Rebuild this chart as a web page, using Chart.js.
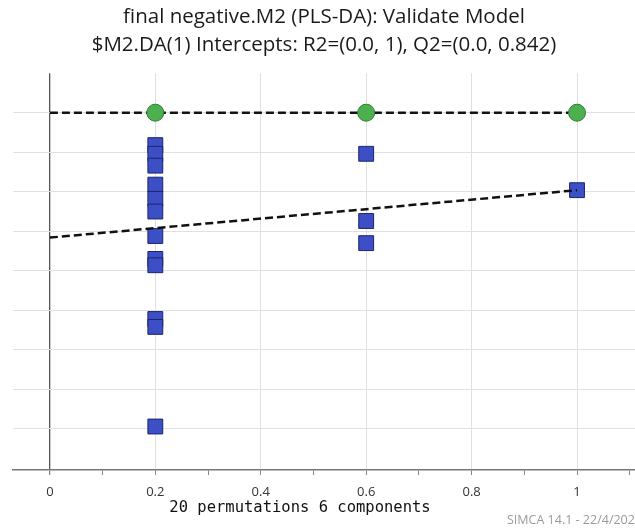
<!DOCTYPE html>
<html>
<head>
<meta charset="utf-8">
<script src="https://cdn.jsdelivr.net/npm/chart.js@4/dist/chart.umd.min.js"></script>
<style>
  html, body { margin: 0; padding: 0; background: #fff; }
  #wrap { width: 635px; height: 532px; position: relative; }
</style>
</head>
<body>
<div id="wrap"><canvas id="permChart"></canvas></div>
<script>
// --- DATA ---
const titleLines = [
    'final negative.M2 (PLS-DA): Validate Model',
    '$M2.DA(1) Intercepts: R2=(0.0, 1), Q2=(0.0, 0.842)'
];
const axisCaption = '20 permutations 6 components';
const stampText = 'SIMCA 14.1 - 22/4/202';

// correlation of permuted Y with original Y (x) and R2 / Q2 (y)
const r2X = [0.2, 0.6, 1];
const r2Y = [1, 1, 1];
const q2X = [0.2, 0.2, 0.2, 0.2, 0.2, 0.2, 0.2, 0.2, 0.2, 0.2, 0.2, 0.2, 0.6, 0.6, 0.6, 1];
const q2Y = [0.959, 0.948, 0.933, 0.909, 0.891, 0.875, 0.844, 0.815, 0.807, 0.739, 0.729, 0.603, 0.948, 0.863, 0.835, 0.902];

// regression lines through the points (intercept at x = 0)
const lineX = [0, 1];
const r2LineY = [1, 1];
const q2LineY = [0.842, 0.902];

const xTickValues = [0, 0.1, 0.2, 0.3, 0.4, 0.5, 0.6, 0.7, 0.8, 0.9, 1, 1.1];
const xTickLabels = ['0', '', '0.2', '', '0.4', '', '0.6', '', '0.8', '', '1', ''];
const yGridValues = [0.6, 0.65, 0.7, 0.75, 0.8, 0.85, 0.9, 0.95, 1];

const toPoints = (xs, ys) => xs.map((x, i) => ({ x, y: ys[i] }));

// caption under the axis and the program stamp in the corner
const footerText = {
    id: 'footerText',
    afterDraw(chart) {
        const c = chart.ctx;
        c.save();
        c.fillStyle = '#111';
        c.font = '15.5px "DejaVu Sans Mono"';
        c.textAlign = 'center';
        c.textBaseline = 'middle';
        c.fillText(axisCaption, 300, 508);
        c.fillStyle = '#9a9a9a';
        c.font = '12.5px "Open Sans"';
        c.textAlign = 'left';
        c.fillText(stampText, 507, 520);
        c.restore();
    }
};

new Chart(document.getElementById('permChart'), {
    data: {
        datasets: [
            {
                type: 'scatter',
                label: 'R2',
                data: toPoints(r2X, r2Y),
                pointStyle: 'circle',
                pointRadius: 8.5,
                backgroundColor: '#4caf50',
                borderColor: '#2f7d32',
                borderWidth: 1,
                order: 0
            },
            {
                type: 'line',
                label: 'R2 line',
                data: toPoints(lineX, r2LineY),
                borderColor: '#111',
                borderWidth: 2.5,
                borderDash: [8, 4],
                pointRadius: 0,
                fill: false,
                order: 1
            },
            {
                type: 'line',
                label: 'Q2 line',
                data: toPoints(lineX, q2LineY),
                borderColor: '#111',
                borderWidth: 2.5,
                borderDash: [8, 4],
                pointRadius: 0,
                fill: false,
                order: 1
            },
            {
                type: 'scatter',
                label: 'Q2',
                data: toPoints(q2X, q2Y),
                pointStyle: 'rect',
                pointRadius: 10.5,
                backgroundColor: '#3d4fc4',
                borderColor: '#1c2570',
                borderWidth: 1,
                order: 2
            }
        ]
    },
    options: {
        responsive: true,
        maintainAspectRatio: false,
        animation: false,
        layout: { autoPadding: false, padding: { left: 13, right: 0, top: 0, bottom: 0 } },
        plugins: {
            legend: { display: false },
            tooltip: { enabled: false },
            title: {
                display: true,
                text: titleLines,
                color: '#1a1a1a',
                font: { family: '"Open Sans"', size: 20.5, weight: 'normal', lineHeight: 1.37 },
                padding: { top: 3, bottom: 14 }
            }
        },
        scales: {
            x: {
                type: 'linear',
                min: -0.07,
                max: 1.11,
                afterBuildTicks: axis => { axis.ticks = xTickValues.map(v => ({ value: v })); },
                afterFit: axis => {
                    axis.height = 62;
                    axis.paddingLeft = 0;
                    axis.paddingRight = 0;
                },
                ticks: {
                    autoSkip: false,
                    maxRotation: 0,
                    padding: 9,
                    color: '#333',
                    font: { family: '"Open Sans"', size: 13 },
                    callback: (v, i) => xTickLabels[i]
                },
                grid: {
                    color: ctx => {
                        const i = ctx.index;
                        if (i === 0) return '#555';
                        return xTickLabels[i] !== '' ? '#e0e0e0' : 'rgba(0,0,0,0)';
                    },
                    lineWidth: ctx => (ctx.index === 0 ? 1.3 : 1),
                    tickColor: '#888',
                    tickLength: 5,
                    drawTicks: true
                },
                border: { display: true, color: '#777', width: 1.5 }
            },
            y: {
                type: 'linear',
                min: 0.548,
                max: 1.05,
                afterBuildTicks: axis => { axis.ticks = yGridValues.map(v => ({ value: v })); },
                afterFit: axis => { axis.width = 0; },
                ticks: { display: false },
                grid: { color: '#e0e0e0', drawTicks: false },
                border: { display: false }
            }
        }
    },
    plugins: [footerText]
});
</script>
</body>
</html>
